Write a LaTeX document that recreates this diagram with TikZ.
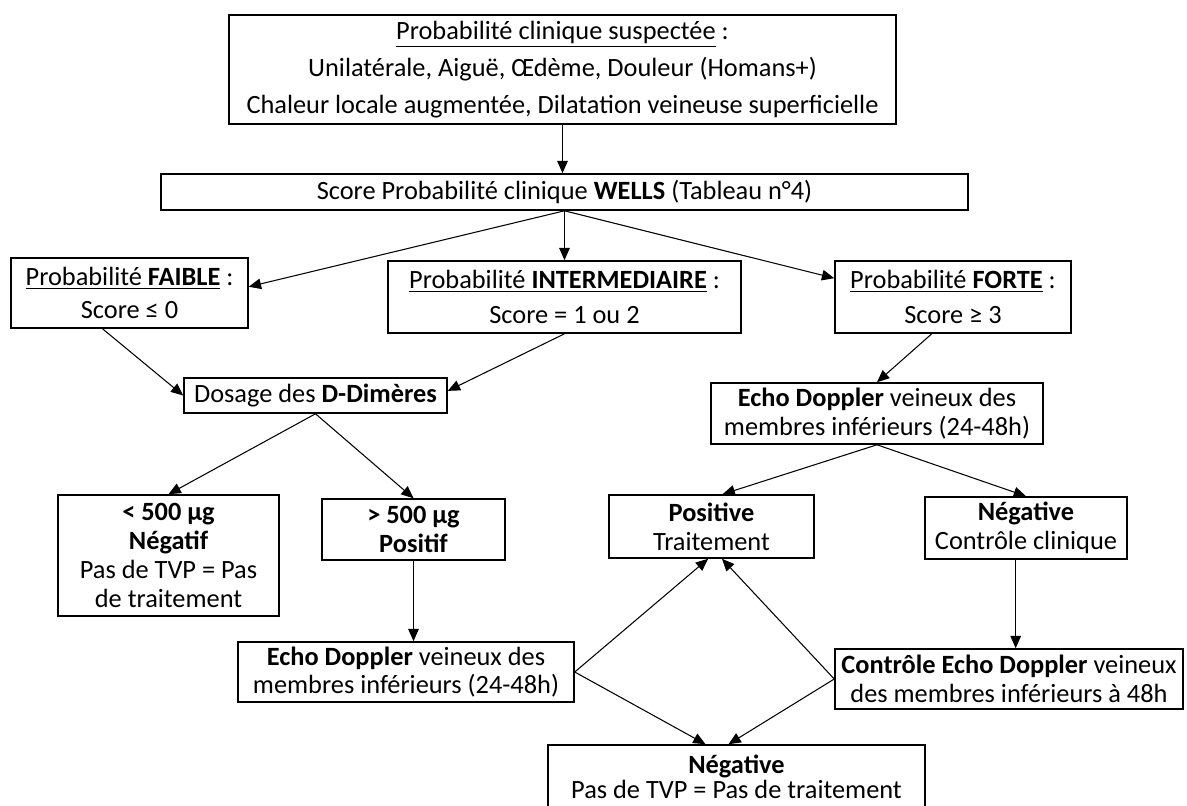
\documentclass[tikz,border=0pt]{standalone}
\usepackage{fontspec}
\setmainfont{Carlito}
\usetikzlibrary{calc,arrows.meta}
\tikzset{
	box/.style={draw, line width=0.9pt, align=center, inner sep=0pt,
		font=\fontsize{15}{16.4}\selectfont},
	flow/.style={-{Triangle[length=7pt,width=6pt]}, line width=0.6pt},
}

\begin{document}
\begin{tikzpicture}[x=0.02cm,y=-0.02cm]
	\useasboundingbox (0,0) rectangle (1187,805);
	%NODES top
	\node[box, minimum width=13.34cm, minimum height=2.18cm] (susp) at (562.5,69.5)
		{\underline{Probabilité clinique suspectée} :\\[4.6pt]
		 Unilatérale, Aiguë, Œdème, Douleur (Homans+)\\[4.6pt]
		 Chaleur locale augmentée, Dilatation veineuse superficielle};
	\node[box, minimum width=16.14cm, minimum height=0.72cm] (wells) at (564.5,192)
		{Score Probabilité clinique \textbf{WELLS} (Tableau n°4)};
	%NODES probabilities
	\node[box, minimum width=4.74cm, minimum height=1.40cm] (faible) at (129.5,293)
		{\underline{Probabilité \textbf{FAIBLE}} :\\[2.4pt] Score ≤ 0};
	\node[box, minimum width=7.06cm, minimum height=1.44cm] (interm) at (564.5,297)
		{\underline{Probabilité \textbf{INTERMEDIAIRE}} :\\[3.6pt] Score = 1 ou 2};
	\node[box, minimum width=4.72cm, minimum height=1.44cm] (forte) at (953,297)
		{\underline{Probabilité \textbf{FORTE}} :\\[3.6pt] Score ≥ 3};
	%NODES left branch
	\node[box, minimum width=5.26cm, minimum height=0.70cm] (dosage) at (315.5,395.5)
		{Dosage des \textbf{D-Dimères}};
	\node[box, minimum width=4.42cm, minimum height=2.42cm] (inf) at (168.5,555.5)
		{\textbf{< 500 µg}\\ \textbf{Négatif}\\ Pas de TVP = Pas\\ de traitement};
	\node[box, minimum width=3.66cm, minimum height=1.22cm] (sup) at (413.5,529.5)
		{\textbf{> 500 µg}\\ \textbf{Positif}};
	\node[box, minimum width=6.72cm, minimum height=1.20cm] (echoG) at (406,672)
		{\textbf{Echo Doppler} veineux des\\ membres inférieurs (24-48h)};
	%NODES right branch
	\node[box, minimum width=6.64cm, minimum height=1.22cm] (echoD) at (877,413.5)
		{\textbf{Echo Doppler} veineux des\\ membres inférieurs (24-48h)};
	\node[box, minimum width=4.10cm, minimum height=1.26cm] (posit) at (711.5,526.5)
		{\textbf{Positive}\\ Traitement};
	\node[box, minimum width=4.04cm, minimum height=1.24cm] (negclin) at (1026,528)
		{\textbf{Négative}\\ Contrôle clinique};
	\node[box, minimum width=6.96cm, minimum height=1.20cm] (ctrl) at (1009,679)
		{\textbf{Contrôle Echo Doppler} veineux\\ des membres inférieurs à 48h};
	\node[box, minimum width=7.54cm, minimum height=1.28cm] (negfin) at (736.5,777)
		{\textbf{Négative}\\[-2pt] Pas de TVP = Pas de traitement};
	%PATHS
	\path[flow] (susp.south) edge (susp.south |- wells.north)
		(wells.south) edge (faible.3)
		(wells.south) edge (interm)
		(wells.south) edge (forte.171)
		(faible.233) edge (dosage.west)
		(interm.south) edge (dosage.2)
		(dosage.south) edge (inf.north)
		(dosage.south) edge (sup.north)
		(sup.south) edge (sup.south |- echoG.north)
		(forte.240) edge (echoD.north)
		(echoD.south) edge (posit.71)
		(echoD.south) edge (negclin.north)
		(negclin.252) edge (negclin.252 |- ctrl.north)
		(echoG.east) edge (posit.264)
		(echoG.east) edge ($(negfin.north)+(-31,0)$)
		(ctrl.west) edge (posit.288)
		(ctrl.west) edge ($(negfin.north)+(-8,0)$);
\end{tikzpicture}
\end{document}
